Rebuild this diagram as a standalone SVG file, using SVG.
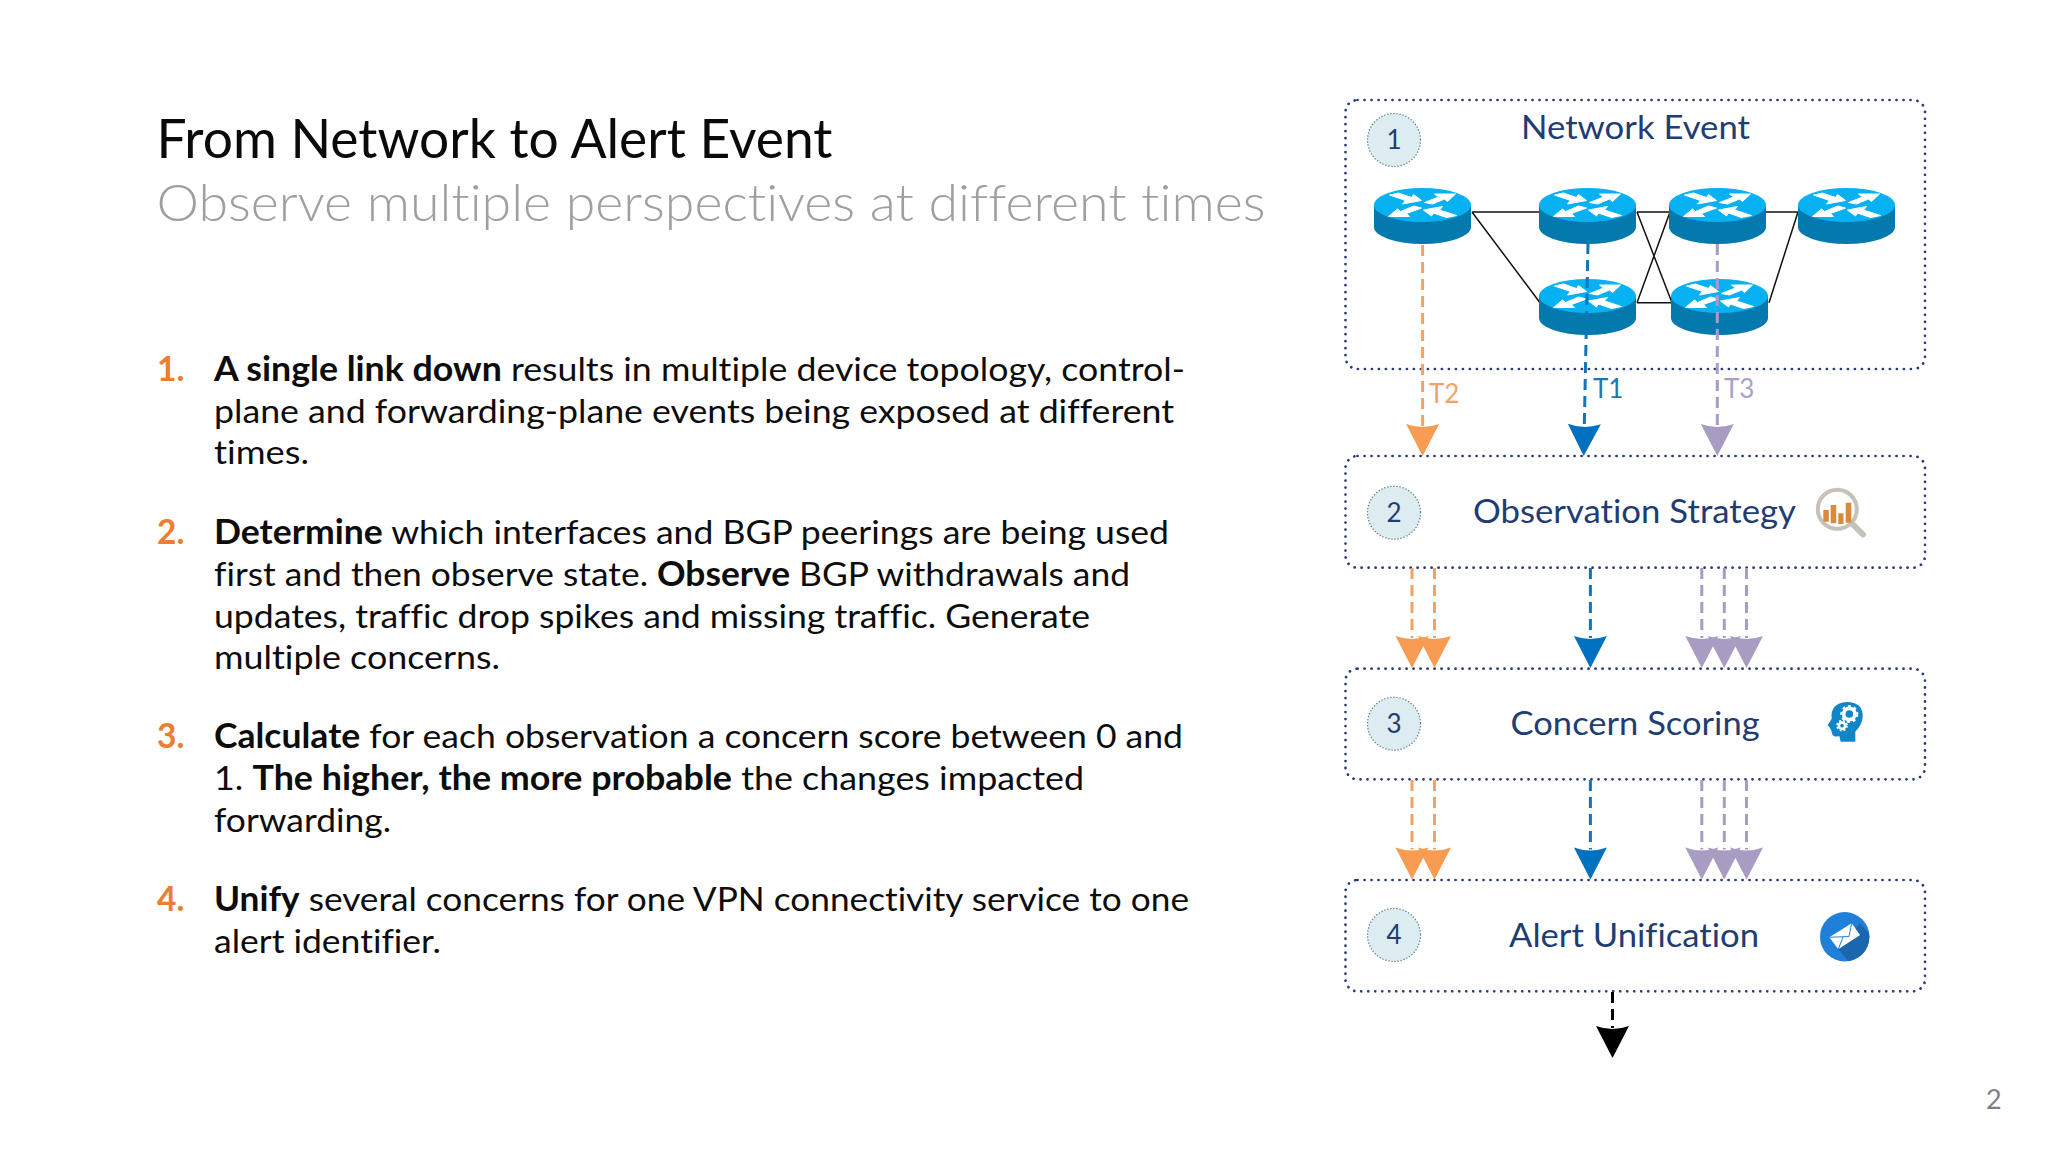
<svg xmlns="http://www.w3.org/2000/svg" xmlns:xlink="http://www.w3.org/1999/xlink" width="2048" height="1152" viewBox="0 0 2048 1152">
<style>
text{font-family:Lato,"Open Sans","Liberation Sans",sans-serif;font-variant-ligatures:none}
.body{font-size:33.5px;fill:#0d0d0d}
.num{font-size:33.5px;fill:#ed7d31;font-weight:700}
.b{font-weight:700}
.lbl{font-size:33.5px;fill:#1f3d73;}
.n{font-size:26px;fill:#1f3d73;text-anchor:middle}
.box{fill:none;stroke:#2b3a7a;stroke-width:2.7;stroke-dasharray:0.1 6.9;stroke-linecap:round}
.badge{fill:#dcecf0;stroke:#5b7c80;stroke-width:1.4;stroke-dasharray:0.1 3;stroke-linecap:round}
.link{fill:none;stroke:#111;stroke-width:1.5}
.d{fill:none;stroke-width:3;stroke-dasharray:11 6}
.o{stroke:#f4a261}.bl{stroke:#0f76bd}.p{stroke:#a99cc2}.k{stroke:#000}
</style>
<defs>
<marker id="ao" markerUnits="userSpaceOnUse" markerWidth="40" markerHeight="40" refX="2" refY="20" orient="auto" overflow="visible"><path d="M0 3.5Q6 20 0 36.5L32 20Z" fill="#f79c52"/></marker>
<marker id="ab" markerUnits="userSpaceOnUse" markerWidth="40" markerHeight="40" refX="2" refY="20" orient="auto" overflow="visible"><path d="M0 3.5Q6 20 0 36.5L32 20Z" fill="#0070c0"/></marker>
<marker id="ap" markerUnits="userSpaceOnUse" markerWidth="40" markerHeight="40" refX="2" refY="20" orient="auto" overflow="visible"><path d="M0 3.5Q6 20 0 36.5L32 20Z" fill="#a99cc2"/></marker>
<marker id="ak" markerUnits="userSpaceOnUse" markerWidth="40" markerHeight="40" refX="2" refY="20" orient="auto" overflow="visible"><path d="M0 3.5Q6 20 0 36.5L32 20Z" fill="#000"/></marker>
<g id="router">
<path d="M-48.5 0V22A48.5 17 0 0 0 48.5 22V0Z" fill="#0379ad"/>
<ellipse rx="48.5" ry="17" fill="#08b1f1"/>
<g fill="#fff" stroke="#fff" stroke-width="1" stroke-linejoin="round">
<polygon points="-1,-4.5 -9,-10.5 -11,-7.5 -24,-12 -33,-10 -17,-4.5 -20,-1"/>
<polygon points="33,-11 12,-11 16,-8 2,-2.5 10,-1 22,-6 25,-3.5"/>
<polygon points="-34,11.5 -13,11.5 -16,8.5 -1,3 -9,1 -22,6.5 -25,4"/>
<polygon points="1,5 9,11 11,8 24,12.5 34,10.5 17,5 20,1.5"/>
</g>
</g>
<clipPath id="mailclip"><circle cx="1844.7" cy="936.7" r="24.7"/></clipPath>
</defs>
<rect width="2048" height="1152" fill="#fff"/>

<g id="title">
<text x="156.5" y="158" font-size="54" fill="#0a0a0a" textLength="676" lengthAdjust="spacingAndGlyphs">From Network to Alert Event</text>
<text x="156.5" y="220.5" font-size="51" font-weight="300" fill="#9f9f9f" textLength="1109" lengthAdjust="spacingAndGlyphs">Observe multiple perspectives at different times</text>
</g>

<g id="points">
<text class="num" x="157" y="381">1.</text>
<text class="body" x="214" y="381" textLength="971" lengthAdjust="spacingAndGlyphs"><tspan class="b">A single link down</tspan> results in multiple device topology, control-</text>
<text class="body" x="214" y="422.5" textLength="960" lengthAdjust="spacingAndGlyphs">plane and forwarding-plane events being exposed at different</text>
<text class="body" x="214" y="464" textLength="95" lengthAdjust="spacingAndGlyphs">times.</text>
<text class="num" x="157" y="544">2.</text>
<text class="body" x="214" y="544" textLength="955" lengthAdjust="spacingAndGlyphs"><tspan class="b">Determine</tspan> which interfaces and BGP peerings are being used</text>
<text class="body" x="214" y="586" textLength="916" lengthAdjust="spacingAndGlyphs">first and then observe state. <tspan class="b">Observe</tspan> BGP withdrawals and</text>
<text class="body" x="214" y="627.5" textLength="876" lengthAdjust="spacingAndGlyphs">updates, traffic drop spikes and missing traffic. Generate</text>
<text class="body" x="214" y="669" textLength="286" lengthAdjust="spacingAndGlyphs">multiple concerns.</text>
<text class="num" x="157" y="748">3.</text>
<text class="body" x="214" y="748" textLength="969" lengthAdjust="spacingAndGlyphs"><tspan class="b">Calculate</tspan> for each observation a concern score between 0 and</text>
<text class="body" x="214" y="790" textLength="870" lengthAdjust="spacingAndGlyphs">1. <tspan class="b">The higher, the more probable</tspan> the changes impacted</text>
<text class="body" x="214" y="831.5" textLength="177" lengthAdjust="spacingAndGlyphs">forwarding.</text>
<text class="num" x="157" y="911">4.</text>
<text class="body" x="214" y="911" textLength="975" lengthAdjust="spacingAndGlyphs"><tspan class="b">Unify</tspan> several concerns for one VPN connectivity service to one</text>
<text class="body" x="214" y="953" textLength="227" lengthAdjust="spacingAndGlyphs">alert identifier.</text>
</g>

<g id="box1">
<rect class="box" x="1345.5" y="100" width="579.5" height="269" rx="12"/>
<circle class="badge" cx="1394" cy="140" r="26.5"/>
<text class="n" x="1394" y="148.5">1</text>
<text class="lbl" x="1521" y="139" textLength="229" lengthAdjust="spacingAndGlyphs">Network Event</text>
</g>
<g id="links">
<path class="link" d="M1472 212H1540M1472 212L1540 302.7M1637 212H1670M1637 212L1672 302.7M1637 302.7L1670 212M1637 302.7H1672M1766 212H1798M1769 302.7L1798 212"/>
</g>
<g id="router1"><use xlink:href="#router" href="#router" x="1422.5" y="205"/></g>
<g id="router2"><use xlink:href="#router" href="#router" x="1587.5" y="205"/></g>
<g id="router3"><use xlink:href="#router" href="#router" x="1717.5" y="205"/></g>
<g id="router4"><use xlink:href="#router" href="#router" x="1846.5" y="205"/></g>
<g id="router5"><use xlink:href="#router" href="#router" x="1587.5" y="296"/></g>
<g id="router6"><use xlink:href="#router" href="#router" x="1719.5" y="296"/></g>

<g id="box2">
<rect class="box" x="1345.5" y="456" width="579.5" height="111.7" rx="12"/>
<circle class="badge" cx="1394" cy="512.7" r="26.5"/>
<text class="n" x="1394" y="521.5">2</text>
<text class="lbl" x="1473" y="522.7" textLength="323" lengthAdjust="spacingAndGlyphs">Observation Strategy</text>
<g id="icon-search">
<circle cx="1837.3" cy="509.3" r="19.5" fill="none" stroke="#c6c1b9" stroke-width="4"/>
<path d="M1853.5 525L1863 534.5" stroke="#c6c1b9" stroke-width="6" stroke-linecap="round"/>
<g fill="#d98a3c"><rect x="1823.3" y="510" width="5.5" height="11.7"/><rect x="1830.7" y="505" width="5.5" height="18.3"/><rect x="1838.3" y="513.3" width="5.2" height="10.7"/><rect x="1845.7" y="502.7" width="5.6" height="20"/></g>
</g>
</g>

<g id="box3">
<rect class="box" x="1345.5" y="668.7" width="579.5" height="110.6" rx="12"/>
<circle class="badge" cx="1394" cy="723.7" r="26.5"/>
<text class="n" x="1394" y="732.7">3</text>
<text class="lbl" x="1510.6" y="735" textLength="249" lengthAdjust="spacingAndGlyphs">Concern Scoring</text>
<g id="icon-head" transform="translate(1780 690) scale(.3333)">
<path d="M182 155L178 138Q165 142 158 136L154 122L150 114L143 106L155 86Q150 40 200 36Q250 36 248 82Q246 105 226 125V155Z" fill="#0f86c8"/>
<circle cx="208" cy="72" r="17" fill="none" stroke="#fff" stroke-width="11"/>
<circle cx="208" cy="72" r="24" fill="none" stroke="#fff" stroke-width="6" stroke-dasharray="9 9"/>
<circle cx="186" cy="107" r="9.5" fill="none" stroke="#fff" stroke-width="8"/>
<circle cx="186" cy="107" r="15" fill="none" stroke="#fff" stroke-width="5" stroke-dasharray="6 6"/>
</g>
</g>

<g id="box4">
<rect class="box" x="1345.5" y="880" width="579.5" height="111.3" rx="12"/>
<circle class="badge" cx="1394" cy="935" r="26.5"/>
<text class="n" x="1394" y="944">4</text>
<text class="lbl" x="1509" y="946.7" textLength="250" lengthAdjust="spacingAndGlyphs">Alert Unification</text>
<g id="icon-mail">
<circle cx="1844.7" cy="936.7" r="24.7" fill="#1f7fd9"/>
<polygon clip-path="url(#mailclip)" points="1838,949 1860,923.5 1880,945 1860,975" fill="#1b66ad"/>
<polygon points="1829.3,937.3 1851.7,923.3 1860,935 1838.3,949.3" fill="#fff"/>
<path d="M1829.3 937.3L1849 936.5L1851.7 923.3M1838.3 949.3L1843 937" fill="none" stroke="#1f7fd9" stroke-width="1"/>
</g>
</g>

<g id="connectors">
<line class="d o" x1="1422.6" y1="245" x2="1422.6" y2="426" marker-end="url(#ao)"/>
<line class="d bl" x1="1588" y1="243" x2="1584.3" y2="426" marker-end="url(#ab)"/>
<line class="d p" x1="1717.3" y1="244" x2="1717.3" y2="426" marker-end="url(#ap)"/>
<line class="d o" x1="1412" y1="568" x2="1412" y2="638" marker-end="url(#ao)"/>
<line class="d o" x1="1434.5" y1="568" x2="1434.5" y2="638" marker-end="url(#ao)"/>
<line class="d bl" x1="1590.4" y1="568" x2="1590.4" y2="638" marker-end="url(#ab)"/>
<line class="d p" x1="1701.8" y1="568" x2="1701.8" y2="638" marker-end="url(#ap)"/>
<line class="d p" x1="1724.3" y1="568" x2="1724.3" y2="638" marker-end="url(#ap)"/>
<line class="d p" x1="1746.5" y1="568" x2="1746.5" y2="638" marker-end="url(#ap)"/>
<line class="d o" x1="1412" y1="780" x2="1412" y2="849.5" marker-end="url(#ao)"/>
<line class="d o" x1="1434.5" y1="780" x2="1434.5" y2="849.5" marker-end="url(#ao)"/>
<line class="d bl" x1="1590.4" y1="780" x2="1590.4" y2="849.5" marker-end="url(#ab)"/>
<line class="d p" x1="1701.8" y1="780" x2="1701.8" y2="849.5" marker-end="url(#ap)"/>
<line class="d p" x1="1724.3" y1="780" x2="1724.3" y2="849.5" marker-end="url(#ap)"/>
<line class="d p" x1="1746.5" y1="780" x2="1746.5" y2="849.5" marker-end="url(#ap)"/>
<line class="d k" x1="1612.5" y1="992" x2="1612.5" y2="1028" marker-end="url(#ak)"/>
</g>
<g id="timelabels">
<text x="1429" y="403" font-size="26" fill="#f4a261">T2</text>
<text x="1593" y="398" font-size="26" fill="#1878b8">T1</text>
<text x="1724" y="398" font-size="26" fill="#a9a0c4">T3</text>
</g>
<text x="1986" y="1109" font-size="27" fill="#808080">2</text>
</svg>
